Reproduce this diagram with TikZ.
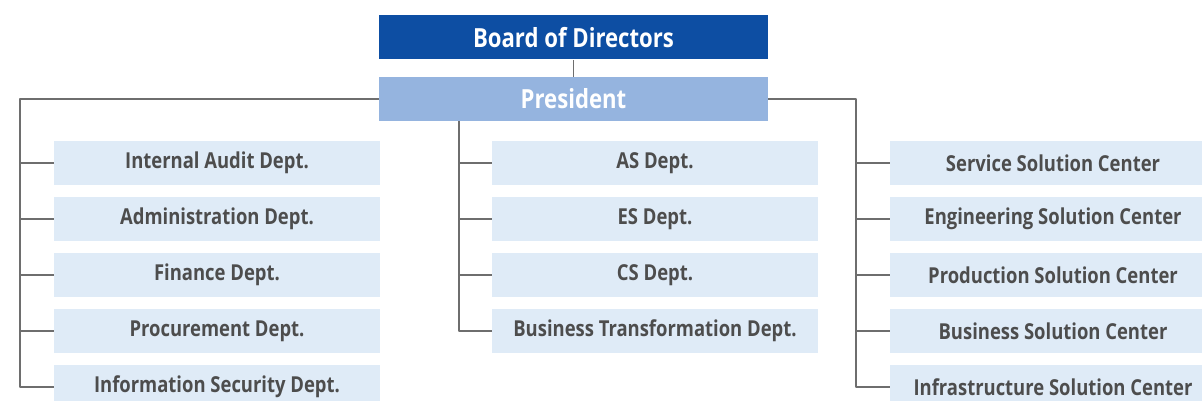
\documentclass[tikz,border=0pt]{standalone}
\usepackage{fontspec}
\setmainfont{Open Sans}[FakeStretch=0.84]
\definecolor{board}{HTML}{0D4EA3}
\definecolor{pres}{HTML}{95B4DF}
\definecolor{dept}{HTML}{DFEBF7}
\definecolor{depttext}{HTML}{4D4D4D}
\definecolor{wire}{HTML}{6E6E6E}
\begin{document}
\begin{tikzpicture}[x=0.02cm, y=-0.02cm, line join=round,
    head/.style={minimum width=7.78cm, minimum height=0.88cm, inner sep=0pt,
        text=white, font=\bfseries\fontsize{15}{17}\selectfont},
    unit/.style={fill=dept, minimum width=6.52cm, minimum height=0.88cm,
        inner sep=0pt, text=depttext, font=\bfseries\fontsize{12.5}{14}\selectfont},
    wire/.style={draw=wire, line width=0.7pt}]
    \useasboundingbox (0,0) rectangle (1202,401);
    % top of the chart
    \node[head, fill=board] (BoD) at (573.5, 37.5) {Board of Directors};
    \node[head, fill=pres] (Pres) at (573.5, 99) {President};
    \draw[wire] (BoD) -- (Pres);
    % three columns of units
    \foreach \y/\id/\text in {
        163/L1/Internal Audit Dept.,
        219/L2/Administration Dept.,
        275/L3/Finance Dept.,
        331/L4/Procurement Dept.,
        387/L5/Information Security Dept.%
    } {
        \node[unit] (\id) at (217, \y) {\text};
    }
    \foreach \y/\id/\text in {
        163/M1/AS Dept.,
        219/M2/ES Dept.,
        275/M3/CS Dept.,
        331/M4/Business Transformation Dept.%
    } {
        \node[unit] (\id) at (655, \y) {\text};
    }
    \foreach \y/\id/\text in {
        163/R1/Service Solution Center,
        219/R2/Engineering Solution Center,
        275/R3/Production Solution Center,
        331/R4/Business Solution Center,
        387/R5/Infrastructure Solution Center%
    } {
        \node[unit] (\id) at (1053, \y) {\text};
    }
    % trunks
    \coordinate (ltrunk) at (20, 387);
    \coordinate (mtrunk) at (459, 331);
    \coordinate (rtrunk) at (856, 387);
    \draw[wire] (Pres.west) -| (ltrunk) -- (L5.west);
    \draw[wire] (Pres.south -| mtrunk) -- (mtrunk) -- (M4.west);
    \draw[wire] (Pres.east) -| (rtrunk) -- (R5.west);
    % branches
    \foreach \i in {1,...,4} {
        \draw[wire] (L\i.west) -- (L\i.west -| ltrunk);
        \draw[wire] (R\i.west) -- (R\i.west -| rtrunk);
    }
    \foreach \i in {1,...,3} {
        \draw[wire] (M\i.west) -- (M\i.west -| mtrunk);
    }
\end{tikzpicture}
\end{document}
